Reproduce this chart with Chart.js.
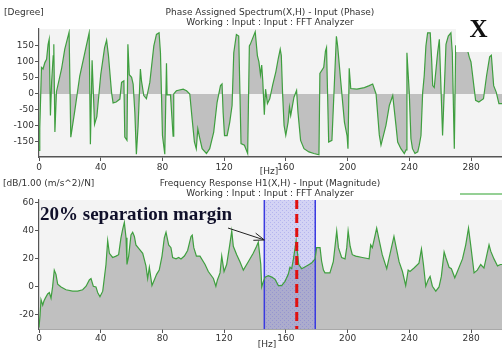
<!DOCTYPE html>
<html>
<head>
<meta charset="utf-8">
<script src="https://cdn.jsdelivr.net/npm/chart.js@4"></script>
<style>
html,body{margin:0;padding:0;background:#fff;}
#wrap{position:relative;width:502px;height:350px;overflow:hidden;}
#wrap canvas{position:absolute;left:0;}
</style>
</head>
<body>
<div id="wrap">
<canvas id="phaseChart" width="502" height="176" style="top:0px"></canvas>
<canvas id="magChart" width="502" height="174" style="top:176px"></canvas>
</div>
<script>
// tick labels
const freqTicks = [0, 40, 80, 120, 160, 200, 240, 280];
const phaseTicks = [-150, -100, -50, 0, 50, 100, 150];
const magTicks = [-20, 0, 20, 40, 60];

// phase spectrum (Hz / degree)
const phaseHz = [0, 0.5, 1.6, 2.6, 3.8, 4.9, 5.9, 6.6, 7.4, 8.2, 9.2, 9.6, 10.3, 11.3, 14.6, 16.7, 19.5, 20.6, 23.2, 26.4,
  29.7, 32.5, 33.3, 34.4, 36, 37.5, 40, 42.5, 43.8, 45, 47, 48, 50, 52.4, 53.5, 55, 55.6, 57, 57.6, 58.5,
  60, 61, 62.1, 63.1, 64.2, 65.7, 66.4, 67.9, 69.6, 71.8, 74.4, 76.1, 77.8, 78.7, 80, 81.5, 82.6, 83, 85.2, 86.9,
  87.3, 89, 93.4, 95.6, 97.7, 99.2, 100.7, 101.9, 102.9, 104, 105.7, 108.5, 110.6, 113.2, 115.4, 117.6, 118.6, 119.3, 120.2, 121.9,
  123.6, 125.1, 126.2, 127.9, 129.4, 130.9, 133.1, 135.2, 136.3, 136.9, 140.1, 141.5, 142.5, 143.5, 144.3, 145, 146, 146.8, 148, 149.5,
  151.5, 153.5, 155, 156.3, 157, 157.8, 158.8, 159.9, 161.4, 162.3, 163.1, 165.2, 166.9, 167.8, 169.5, 171.7, 174.9, 178.1, 181.4, 182,
  184.5, 185.6, 186.3, 187.7, 189.8, 192.7, 193.5, 195.5, 197.9, 199.6, 200.2, 201, 202, 206, 210.8, 214, 216.2, 218.4, 220.5, 221.6,
  224.8, 227, 229.2, 231.3, 232.4, 234.5, 236.7, 237.8, 238.4, 239.9, 241, 242, 243.6, 245.4, 246.4, 247.5, 248.6, 249.6, 250.7, 251.8,
  253.5, 254.4, 255.1, 256.1, 258.3, 259.4, 261.5, 263.7, 265.2, 266.9, 267.8, 269.1, 270, 274, 277.5, 278.8, 279.9, 282.9, 285, 288,
  290, 292, 293.1, 294.6, 296.3, 298, 300];
const phaseDeg = [-176, -107, 83, 78, 98, 108, 155, 171, -67, 40, 119, 155, -119, 7, 78, 140, 193, -135, -52, 56,
  129, 191, -157, 105, -95, -70, 60, 145, 168, 120, 5, -28, -25, -16, 36, 41, -135, -145, 155, 60,
  52, 31, -57, -188, -100, 78, 41, -5, -15, 36, 150, 186, 191, 129, -130, -188, 96, -3, -3, -132,
  0, 10, 15, 10, 0, -77, -150, -171, -109, -135, -171, -186, -171, -119, -26, 26, 31, -57, -130, -130,
  -88, -36, 129, 186, 181, -155, -160, -186, 150, 155, 194, 120, 100, 60, 90, 40, -65, 15, -30, -15,
  30, 70, 110, 140, 120, 5, -98, -129, -88, -41, -67, -10, 11, -57, -145, -171, -181, -186, -190, 64,
  83, 134, 145, -150, -145, 180, 150, 40, -88, -130, -171, 80, 17, 15, 20, 26, 31, 0, -128, -160,
  -98, -36, -5, -98, -150, -171, -186, -175, 129, 5, -140, -171, -186, -181, -160, -130, 5, 57, 150, 191,
  191, 108, 26, 20, 129, 171, -130, 155, 181, 191, 129, -171, 150, 170, 140, 115, 100, -20, -25, -15,
  57, 116, 121, 26, 5, -30, -30];

// frequency response magnitude (Hz / dB)
const magHz = [0, 0.7, 1.3, 2.4, 3.2, 4.1, 5.6, 6.7, 7.8, 8.8, 9.9, 11, 12.1, 14.3, 17.5, 21.8, 25, 28.3, 30.5, 32.6,
  33.7, 35.2, 36.9, 38, 39.5, 41.3, 43.4, 44.5, 45.6, 47.7, 49.9, 51.6, 53.1, 54.2, 55.3, 56.4, 57, 58.1, 59.6, 60.7,
  61.8, 62.8, 65, 67.2, 69.3, 70.4, 71.5, 73.2, 74.7, 76.2, 77.9, 79.7, 81.2, 82.3, 84, 85.5, 86.6, 88.8, 90.5, 92,
  94.2, 96.3, 98.5, 99.3, 100.3, 102, 104.3, 107.6, 109.7, 113, 114.6, 115.6, 117.3, 118.4, 119.9, 121.6, 123.6, 124.9, 125.9, 128.1,
  130.2, 132.4, 135.6, 138.8, 141, 142.1, 143.7, 144.3, 145.4, 146.5, 148.6, 150.8, 152.9, 155.1, 157.2, 159.4, 161.5, 162.6, 163.7, 164.8,
  166.6, 167.4, 168.3, 170.2, 173.4, 176.6, 178.9, 179.9, 182.1, 183.1, 184.3, 185.3, 188.5, 190.7, 192.9, 194, 196.1, 198.3, 199.4, 200.3,
  201.6, 203, 205.2, 209.5, 213.9, 214.9, 216, 218.8, 220.3, 222.4, 225.3, 230, 231.1, 233.3, 235.5, 237.6, 239.2, 240.4, 243, 246.2,
  247.8, 249.1, 250.6, 252.1, 253.4, 254.9, 257.1, 259.2, 260.7, 262.5, 263.6, 265.7, 267.2, 269.4, 271.1, 274.4, 276.5, 278.3, 279.7, 281.9,
  284, 286.2, 288.3, 291.6, 292.7, 294.8, 297.1, 299, 300];
const magDb = [-29, -20, -9, -13, -10, -8, -5, -4, -8, 0, 12, 9, 2, 0, -2, -3, -3, -2, 0.5, 5,
  6, 0.5, 0, -4, -7, -3, 16, 33, 24, 21, 22, 23, 35, 41, 46, 35, 16, 22, 37, 39,
  36, 30, 27, 24, 15, 6, 14, 1, 5, 9, 12, 22, 35, 39, 30, 28, 21, 20, 21, 20,
  22, 26, 36, 37, 28, 22, 22, 16, 11, 6, 0.5, 5, 10, 22, 11, 16, 30, 40, 29, 23,
  18, 12, 18, 24, 29, 32, 16, 0, 4, 7, 8, 7, 5.5, 1, 1, 4, 9, 14, 13, 19.5,
  33, 25, 16, 13, 15, 17, 20, 28, 28, 18.5, 12, 10, 10, 18, 40, 28, 21, 20, 28, 40,
  29, 23, 22, 21, 20, 30, 28, 42, 34, 23, 13, 36, 30, 18, 11, 1, 12, 11, 13.5, 17,
  27, 16, 0.5, 5, 7.5, 0.5, -3, 0, 7.5, 25, 21, 14, 13, 6.5, 11, 20, 30, 42, 30, 10,
  12, 16, 13.5, 30, 25.5, 20, 15, 16, 16];

// 20% separation margin band and resonance line
const marginLow = 146;
const marginHigh = 179;
const resonanceHz = 167;

const labelFont = { family: 'DejaVu Sans', size: 9 };
const textColor = '#333';

function xy(xs, ys) {
  return xs.map((x, i) => ({ x: x, y: ys[i] }));
}

function freqScale(h, pad) {
  return {
    type: 'linear', min: 0, max: 300,
    afterBuildTicks: s => { s.ticks = freqTicks.map(v => ({ value: v })); },
    afterFit: s => { s.height = h; },
    grid: { drawOnChartArea: false, tickLength: 4, color: '#555' },
    border: { color: '#555', width: 1.5 },
    ticks: { font: labelFont, color: textColor, padding: pad, maxRotation: 0, autoSkip: false }
  };
}

function valueScale(min, max, list) {
  return {
    type: 'linear', min: min, max: max,
    afterBuildTicks: s => { s.ticks = list.map(v => ({ value: v })); },
    afterFit: s => { s.width = 39; },
    grid: { drawOnChartArea: false, tickLength: 4, color: '#555' },
    border: { color: '#555', width: 1.2 },
    ticks: { font: labelFont, color: textColor, padding: 1, autoSkip: false }
  };
}

/** nền xám của vùng vẽ */
const plotBg = {
  id: 'plotBg',
  beforeDraw(chart) {
    const { ctx, chartArea: a } = chart;
    ctx.save();
    ctx.fillStyle = '#f3f3f3';
    ctx.fillRect(a.left, a.top, a.right - a.left, a.bottom - a.top);
    ctx.restore();
  }
};

/** các dòng chữ tiêu đề */
function headerPlugin(lines) {
  return {
    id: 'header',
    afterDraw(chart) {
      const ctx = chart.ctx;
      ctx.save();
      ctx.font = '9px "DejaVu Sans"';
      ctx.fillStyle = textColor;
      ctx.textBaseline = 'middle';
      lines.forEach(l => {
        ctx.textAlign = l.align;
        ctx.fillText(l.text, l.x, l.y);
      });
      ctx.restore();
    }
  };
}

const phaseExtras = {
  id: 'phaseExtras',
  afterDraw(chart) {
    const { ctx, chartArea: a } = chart;
    ctx.save();
    ctx.fillStyle = '#fff';
    ctx.fillRect(456, a.top - 1, a.right - 456, 52 - a.top + 1);
    ctx.fillStyle = '#111';
    ctx.font = 'bold 25px "Liberation Serif"';
    ctx.textAlign = 'center';
    ctx.textBaseline = 'middle';
    ctx.fillText('X', 478.5, 31);
    ctx.restore();
  }
};

const marginBand = {
  id: 'marginBand',
  beforeDatasetsDraw(chart) {
    const { ctx, chartArea: a, scales } = chart;
    const x0 = scales.x.getPixelForValue(marginLow);
    const x1 = scales.x.getPixelForValue(marginHigh);
    const tile = document.createElement('canvas');
    tile.width = tile.height = 4;
    const g = tile.getContext('2d');
    g.fillStyle = 'rgba(110,110,245,0.24)';
    g.fillRect(0, 0, 4, 4);
    g.fillStyle = 'rgba(70,70,220,0.22)';
    g.fillRect(0, 0, 1, 1);
    g.fillRect(2, 2, 1, 1);
    ctx.save();
    ctx.fillStyle = ctx.createPattern(tile, 'repeat');
    ctx.fillRect(x0, a.top, x1 - x0, a.bottom - a.top);
    ctx.strokeStyle = '#3a3ae0';
    ctx.lineWidth = 1.5;
    ctx.beginPath();
    ctx.moveTo(x0, a.top); ctx.lineTo(x0, a.bottom);
    ctx.moveTo(x1, a.top); ctx.lineTo(x1, a.bottom);
    ctx.stroke();
    ctx.restore();
  },
  afterDatasetsDraw(chart) {
    const { ctx, chartArea: a, scales } = chart;
    const xr = scales.x.getPixelForValue(resonanceHz);
    ctx.save();
    ctx.strokeStyle = '#e01010';
    ctx.lineWidth = 3;
    ctx.setLineDash([9, 5]);
    ctx.beginPath();
    ctx.moveTo(xr, a.top);
    ctx.lineTo(xr, a.bottom);
    ctx.stroke();
    ctx.setLineDash([]);

    // chú thích + mũi tên
    const ax = scales.x.getPixelForValue(122.5), ay = scales.y.getPixelForValue(42);
    const bx = scales.x.getPixelForValue(146), by = scales.y.getPixelForValue(33.5);
    ctx.strokeStyle = '#222';
    ctx.lineWidth = 1;
    ctx.beginPath();
    ctx.moveTo(ax, ay); ctx.lineTo(bx, by);
    const ang = Math.atan2(by - ay, bx - ax);
    ctx.moveTo(bx, by); ctx.lineTo(bx - 11 * Math.cos(ang - 0.35), by - 11 * Math.sin(ang - 0.35));
    ctx.moveTo(bx, by); ctx.lineTo(bx - 11 * Math.cos(ang + 0.35), by - 11 * Math.sin(ang + 0.35));
    ctx.stroke();

    ctx.fillStyle = '#10102a';
    ctx.font = 'bold 19px "Liberation Serif"';
    ctx.textAlign = 'left';
    ctx.textBaseline = 'alphabetic';
    ctx.fillText('20% separation margin', a.left + 1, 44);

    // đoạn legend
    ctx.strokeStyle = '#72c072';
    ctx.lineWidth = 1.5;
    ctx.beginPath();
    ctx.moveTo(460, 18); ctx.lineTo(502, 18);
    ctx.stroke();
    ctx.restore();
  }
};

new Chart('phaseChart', {
  type: 'line',
  data: {
    datasets: [{
      data: xy(phaseHz, phaseDeg),
      borderColor: '#3f9f3f',
      borderWidth: 1.2,
      backgroundColor: '#c0c0c0',
      fill: { value: 0 },
      pointRadius: 0,
      tension: 0
    }]
  },
  options: {
    responsive: false,
    animation: false,
    layout: { padding: { top: 29, left: 0, right: 0, bottom: 0 } },
    plugins: { legend: { display: false }, tooltip: { enabled: false } },
    scales: { x: freqScale(19, 1), y: valueScale(-197, 203, phaseTicks) }
  },
  plugins: [plotBg, phaseExtras, headerPlugin([
    { text: '[Degree]', x: 4, y: 13, align: 'left' },
    { text: 'Phase Assigned Spectrum(X,H) - Input (Phase)', x: 270, y: 13, align: 'center' },
    { text: 'Working : Input : Input : FFT Analyzer', x: 270, y: 23, align: 'center' },
    { text: '[Hz]', x: 269, y: 172, align: 'center' }
  ])]
});

new Chart('magChart', {
  type: 'line',
  data: {
    datasets: [{
      data: xy(magHz, magDb),
      borderColor: '#3f9f3f',
      borderWidth: 1.2,
      backgroundColor: '#c0c0c0',
      fill: 'start',
      pointRadius: 0,
      tension: 0
    }]
  },
  options: {
    responsive: false,
    animation: false,
    layout: { padding: { top: 24, left: 0, right: 0, bottom: 0 } },
    plugins: { legend: { display: false }, tooltip: { enabled: false }, filler: { drawTime: 'beforeDatasetsDraw' } },
    scales: { x: freqScale(21, 0), y: valueScale(-30, 62, magTicks) }
  },
  plugins: [plotBg, marginBand, headerPlugin([
    { text: '[dB/1.00 (m/s^2)/N]', x: 3, y: 8, align: 'left' },
    { text: 'Frequency Response H1(X,H) - Input (Magnitude)', x: 270, y: 8, align: 'center' },
    { text: 'Working : Input : Input : FFT Analyzer', x: 270, y: 18, align: 'center' },
    { text: '[Hz]', x: 267, y: 169, align: 'center' }
  ])]
});
</script>
</body>
</html>
